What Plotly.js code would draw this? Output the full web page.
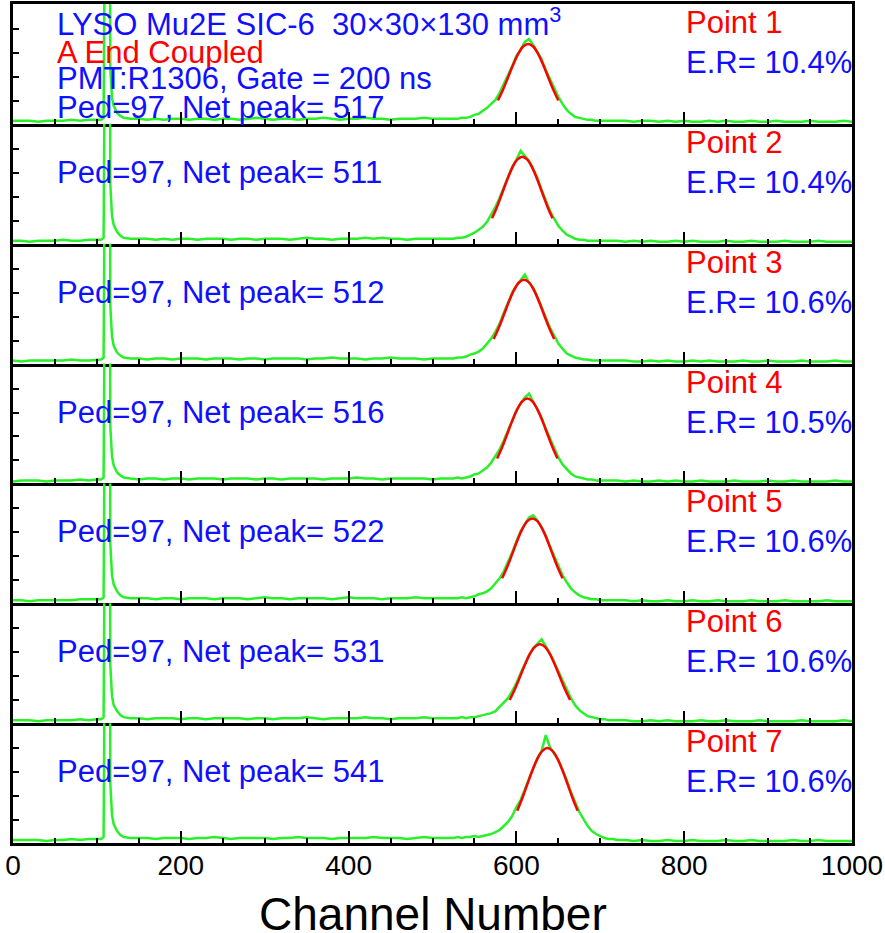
<!DOCTYPE html>
<html><head><meta charset="utf-8">
<script src="https://cdn.plot.ly/plotly-3.0.1.min.js"></script>
<style>html,body{margin:0;padding:0;background:#fff}</style>
</head><body><div id="chart" style="width:885px;height:933px"></div>
<script>
// Channel grid (x values of the spectra)
const channels = [0,10,20,30,40,50,60,70,80,90,100,
  105,108,110,112,115,116,118,120,124,128,132,140,
  150,160,170,180,190,200,210,220,230,240,250,260,270,280,290,300,310,320,330,340,350,360,370,380,390,400,410,420,430,440,450,460,470,480,490,500,510,
  520,525,530,535,540,545,550,555,560,565,570,575,580,585,590,595,600,605,610,615,620,625,630,635,640,645,650,655,660,665,670,675,680,685,690,695,700,705,710,715,720,
  730,740,750,760,770,780,790,800,810,820,830,840,850,860,870,880,890,900,910,920,930,940,950,960,970,980,990,1000];

// Spectra (counts, arbitrary units per panel)
const counts1 = [3,3,3,2,3,3,3,4,3,4,4,
  4,6,300,300,300,55,26,18,11,8,6,5,
  5,4,5,4,5,5,4,5,5,4,5,5,4,5,6,5,4,5,5,4,5,5,6,5,4,5,5,6,5,5,4,5,5,5,6,5,5,
  5,5,5,6,6,7,9,10,13,16,20,24,31,40,48,58,68,74,82,85,79,72,65,54,45,35,27,20,14,10,7,6,5,4,4,3,3,3,3,3,3,
  3,2,3,3,2,3,2,3,2,2,3,2,3,2,2,3,2,2,3,2,2,2,3,2,2,2,3,2];
const counts2 = [3,3,2,3,3,3,4,3,3,4,4,
  4,6,300,300,300,60,28,19,12,8,6,5,
  5,5,4,5,4,5,5,4,5,5,5,4,5,5,4,5,5,5,4,5,6,5,5,4,5,5,5,6,5,6,5,5,4,5,5,5,5,
  5,5,6,6,7,9,11,14,17,22,29,37,46,57,67,77,84,93,88,83,75,66,54,43,33,25,18,13,9,7,5,4,4,3,3,3,3,3,3,3,3,
  2,3,2,3,2,2,3,2,3,2,2,2,3,2,2,3,2,2,2,3,2,2,2,3,2,2,2,2];
const counts3 = [3,2,3,3,3,3,3,4,3,3,4,
  4,6,300,300,300,58,27,18,11,8,6,5,
  5,4,5,5,4,5,5,5,4,5,5,5,4,5,5,4,5,5,5,5,4,5,5,6,5,5,5,4,5,5,6,5,5,5,4,5,5,
  5,5,6,6,7,9,10,12,15,20,25,32,40,51,61,71,78,84,89,81,76,67,57,46,36,28,20,15,10,8,6,5,4,4,3,3,3,3,3,3,3,
  3,2,2,3,2,3,2,2,3,2,3,2,2,2,3,2,2,3,2,2,2,3,2,2,2,3,2,2];
const counts4 = [2,3,3,3,2,3,3,3,4,3,4,
  4,6,300,300,300,57,27,18,11,8,6,5,
  4,5,5,4,5,5,4,5,5,5,4,5,5,5,4,5,5,4,5,5,5,5,4,5,5,5,6,5,5,4,5,5,5,5,5,4,5,
  5,5,6,5,6,7,9,10,13,16,21,27,34,43,53,64,73,80,86,90,82,75,66,55,45,35,26,19,14,10,7,6,5,4,4,3,3,3,3,3,3,
  2,3,2,2,3,2,3,2,2,3,2,2,2,3,2,2,2,3,2,2,3,2,2,2,2,3,2,2];
const counts5 = [3,3,2,3,3,3,3,3,4,4,4,
  4,6,300,300,300,60,28,19,12,8,6,5,
  5,5,4,5,5,4,5,5,5,4,5,5,5,4,5,6,5,5,4,5,5,5,5,4,5,6,5,5,5,4,5,5,5,6,5,5,5,
  5,5,5,6,5,6,7,9,10,12,15,20,25,32,41,51,62,72,79,86,88,83,76,68,57,47,37,28,21,15,11,8,6,5,4,4,3,3,3,3,3,
  3,2,3,2,2,3,2,2,3,2,2,3,2,2,2,3,2,2,2,3,2,2,2,2,3,2,2,2];
const counts6 = [3,3,3,2,3,3,3,3,4,3,4,
  4,6,300,300,300,58,27,18,12,8,6,5,
  5,4,5,5,5,4,5,5,4,5,5,5,5,4,5,5,4,5,5,5,6,5,4,5,5,5,5,6,5,5,4,5,5,5,6,5,5,
  5,5,5,6,5,6,6,7,8,9,10,12,16,20,25,32,40,50,59,68,75,80,84,77,70,61,52,42,33,25,18,13,10,7,6,5,4,4,3,3,3,
  3,2,2,3,2,3,2,2,2,3,2,2,3,2,2,2,3,2,2,2,2,3,2,2,2,2,3,2];
const counts7 = [3,3,3,3,2,3,3,4,3,4,4,
  4,6,300,300,300,60,28,19,12,8,6,5,
  5,5,4,5,5,5,4,5,5,6,5,4,5,5,5,5,4,5,5,6,5,5,5,4,5,5,5,5,6,5,5,5,4,5,6,5,5,
  5,5,6,5,6,6,7,6,7,8,9,11,13,17,21,27,36,43,54,65,76,85,92,108,96,90,83,73,63,51,41,31,24,17,12,9,7,5,4,4,3,
  3,2,3,2,2,3,2,2,3,2,2,2,3,2,2,3,2,2,2,2,3,2,2,3,2,2,2,2];

// Gaussian fit curves
const fitX1 = [578,584,590,596,602,608,614,620,626,632,638,644,650];
const fitY1 = [23.5,34.2,46.4,58.9,69.8,77.4,80,77.4,69.8,58.9,46.4,34.2,23.5];
const fitX2 = [571,577,583,589,595,601,607,613,619,625,631,637,643];
const fitY2 = [25.6,37.1,50.5,64.0,76.0,84.1,87,84.1,76.0,64.0,50.5,37.1,25.6];
const fitX3 = [573,579,585,591,597,603,609,615,621,627,633,639,645];
const fitY3 = [24.7,35.9,48.7,61.8,73.3,81.2,84,81.2,73.3,61.8,48.7,35.9,24.7];
const fitX4 = [577,583,589,595,601,607,613,619,625,631,637,643,649];
const fitY4 = [25.0,36.3,49.3,62.6,74.2,82.2,85,82.2,74.2,62.6,49.3,36.3,25.0];
const fitX5 = [583,589,595,601,607,613,619,625,631,637,643,649,655];
const fitY5 = [25.0,36.3,49.3,62.6,74.2,82.2,85,82.2,74.2,62.6,49.3,36.3,25.0];
const fitX6 = [592,598,604,610,616,622,628,634,640,646,652,658,664];
const fitY6 = [23.2,33.7,45.8,58.1,69.0,76.4,79,76.4,69.0,58.1,45.8,33.7,23.2];
const fitX7 = [601,607,613,619,625,631,637,643,649,655,661,667,673];
const fitY7 = [32.3,44.8,58.8,72.5,84.3,92.2,95,92.2,84.3,72.5,58.8,44.8,32.3];

const pointLabels = ['Point 1','Point 2','Point 3','Point 4','Point 5','Point 6','Point 7'];
const resolutions = ['10.4%','10.4%','10.6%','10.5%','10.6%','10.6%','10.6%'];
const netPeaks = [517,511,512,516,522,531,541];
const pedestal = 97;
const headerLines = ['LYSO Mu2E SIC-6\u00a0\u00a030\u00d730\u00d7130 mm<sup>3</sup>','A End Coupled','PMT:R1306, Gate = 200 ns'];
const xTitle = 'Channel Number';

const allCounts = [counts1,counts2,counts3,counts4,counts5,counts6,counts7];
const allFitX = [fitX1,fitX2,fitX3,fitX4,fitX5,fitX6,fitX7];
const allFitY = [fitY1,fitY2,fitY3,fitY4,fitY5,fitY6,fitY7];

const FONT = 'Arial, "Liberation Sans", sans-serif';
const BLUE = '#1010ff', RED = '#ff0000', GREEN = '#2af02a';
const N = 7;
const traces = [];
const layout = {
  width: 885, height: 933,
  margin: {l: 13, r: 33, t: 4, b: 90},
  paper_bgcolor: '#fff', plot_bgcolor: '#fff',
  showlegend: false,
  annotations: [{
    xref: 'paper', yref: 'paper', x: 0.5, y: 0, yshift: -71, xanchor: 'center', yanchor: 'middle',
    showarrow: false, text: xTitle, font: {family: FONT, size: 46, color: '#000'}
  }]
};
for (let k = 0; k < N; k++) {
  const sfx = k === 0 ? '' : String(k + 1);
  const xa = 'x' + sfx, ya = 'y' + sfx;
  traces.push({x: channels, y: allCounts[k], xaxis: xa, yaxis: ya, type: 'scatter', mode: 'lines',
    line: {color: GREEN, width: 2.5}, hoverinfo: 'skip'});
  traces.push({x: allFitX[k], y: allFitY[k], xaxis: xa, yaxis: ya, type: 'scatter', mode: 'lines',
    line: {color: RED, width: 2.5, shape: 'spline'}, hoverinfo: 'skip'});
  const last = k === N - 1;
  layout['xaxis' + sfx] = {
    anchor: ya, domain: [0, 1], range: [0, 1000],
    showline: true, linewidth: 3, linecolor: '#000', mirror: k === 0,
    ticks: 'inside', tick0: 0, dtick: 200, ticklen: 12, tickwidth: 2, tickcolor: '#000',
    minor: {ticks: 'inside', dtick: 50, ticklen: 5, tickwidth: 2, tickcolor: '#000'},
    showgrid: false, zeroline: false, showticklabels: last,
    tickfont: {family: FONT, size: 28, color: '#000'}, ticklabelstandoff: -5
  };
  layout['yaxis' + sfx] = {
    anchor: xa, domain: [1 - (k + 1) / N, 1 - k / N], range: [0, 120],
    showline: true, linewidth: 3, linecolor: '#000', mirror: true,
    ticks: 'inside', tickvals: [23, 47, 71, 95], ticklen: 6, tickwidth: 2, tickcolor: '#000',
    showticklabels: false, showgrid: false, zeroline: false
  };
  const ann = (x, y, text, color) => layout.annotations.push({
    xref: xa, yref: ya, x: x, y: y, xanchor: 'left', yanchor: 'middle', showarrow: false,
    text: text, font: {family: FONT, size: 31, color: color}
  });
  ann(800, 101.5, pointLabels[k], RED);
  ann(800, 61.5, 'E.R= ' + resolutions[k], BLUE);
  if (k === 0) {
    ann(50, 101.5, headerLines[0], BLUE);
    ann(50, 71, headerLines[1], RED);
    ann(50, 45, headerLines[2], BLUE);
    ann(50, 16, 'Ped=' + pedestal + ', Net peak= ' + netPeaks[k], BLUE);
  } else {
    ann(50, 71.5, 'Ped=' + pedestal + ', Net peak= ' + netPeaks[k], BLUE);
  }
}
Plotly.newPlot('chart', traces, layout, {staticPlot: true, displayModeBar: false});
</script></body></html>
